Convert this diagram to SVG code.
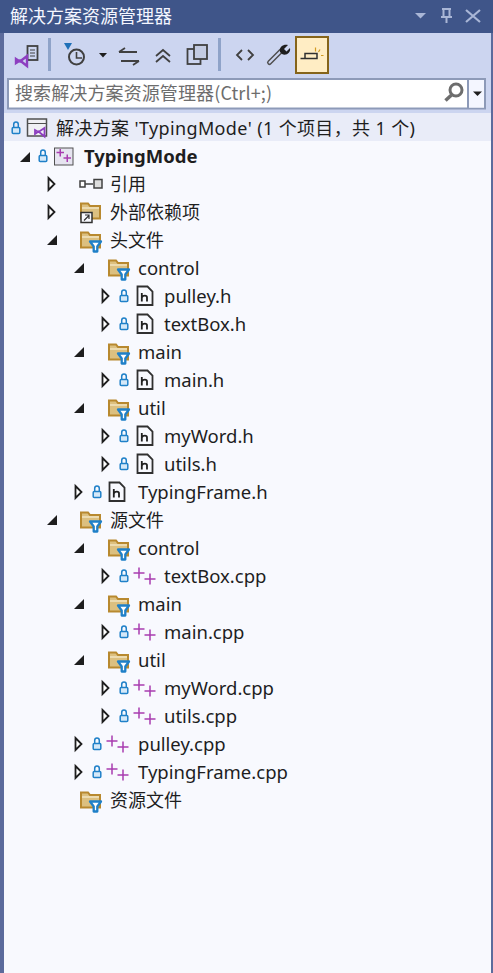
<svg xmlns="http://www.w3.org/2000/svg" width="493" height="973" viewBox="0 0 493 973">
<style>
text{font-family:"Noto Sans","Noto Sans CJK SC",sans-serif;font-size:18.5px;fill:#1e1e1e}
.cjk{font-family:"Noto Sans CJK SC","Noto Sans",sans-serif;font-size:18px}
.title{fill:#f4f6ff}
.open{fill:#fff;stroke:#1e1e1e;stroke-width:1.8}
.fill{fill:#1e1e1e}
.ln{fill:none;stroke:#404040;stroke-width:1.8}
</style>
<defs>
<g id="lock"><path d="M-2.300-1v-2.500a2.300 2.500 0 0 1 4.600 0V-1" fill="none" stroke="#1f80c8" stroke-width="1.500"/><rect x="-3.800" y="-0.500" width="7.600" height="6" rx="1" fill="#d4e8f8" stroke="#1f80c8" stroke-width="1.500"/></g>
<path id="ao" class="open" d="M-2.500-6L3.500 0L-2.500 6Z"/>
<path id="af" class="fill" d="M5-5V5H-5Z"/>
<g id="folder"><path d="M1-7.500H8L10-5H20V7.500H1Z" fill="#dcc080" stroke="#b8892f" stroke-width="2"/><path d="M2-3H19" stroke="#f2e4c0" stroke-width="1.500"/></g>
<g id="filter"><path d="M10 1.500H21L17.300 6.500V11.500L13.700 11.500V6.500Z" fill="#fff" stroke="#1f80c8" stroke-width="2.300" stroke-linejoin="round"/></g>
<g id="ff"><use href="#folder"/><use href="#filter"/></g>
<g id="hf"><path d="M1.500-9.500H11.500L16.500-4.500V9H1.500Z" fill="#f8f9fe" stroke="#303030" stroke-width="1.800"/><path d="M5.800-3V5.500M5.800 1.500C7-1 11-1 11 1.500V5.500" fill="none" stroke="#202020" stroke-width="1.800"/></g>
<g id="cpp"><path d="M-1.500-3H9.500M4-8.500V2.500M9.500 3H20.500M15-2.500V8.500" fill="none" stroke="#a83cb0" stroke-width="1.500"/></g>
</defs>
<rect width="493" height="973" fill="#f8f9fe"/>
<rect width="4" height="973" fill="#5c6b9c"/>
<rect x="491" width="2" height="973" fill="#5c6b9c"/>
<g id="titlebar">
<rect width="493" height="33" fill="#3f5589"/>
<text class="cjk title" x="10" y="23">解决方案资源管理器</text>
<path d="M415 13H426L420.500 18.500Z" fill="#a9b6d6"/>
<path d="M442 9H451M443.500 9V17H449.500V9M441 17H452M446.500 17V23" fill="none" stroke="#a9b6d6" stroke-width="2"/>
<path d="M466 10L480 22M480 10L466 22" stroke="#a9b6d6" stroke-width="2.200"/>
</g>
<g id="toolbar">
<rect x="4" y="33" width="487" height="80" fill="#ccd5f0"/>
<rect x="48" y="38" width="3" height="33" fill="#8fa3c9"/>
<rect x="218" y="38" width="3" height="33" fill="#8fa3c9"/>
<rect x="27.500" y="46" width="10" height="14" fill="#ccd5f0" stroke="#404040" stroke-width="1.800"/><path d="M30 50H35M30 53H35M30 56H35" stroke="#404040"/>
<path d="M16 59L20 61.500L27 56V66L20 60.500L16 63Z" fill="#ccd5f0" stroke="#8d3fc0" stroke-width="2.400"/>
<path d="M64 43H72L68 50Z" fill="#1f70b8"/><circle cx="76.500" cy="57" r="7.500" fill="none" stroke="#404040" stroke-width="2"/><path d="M76.500 52V58H82" fill="none" stroke="#404040" stroke-width="1.600"/>
<path d="M99 53H107L103 57.500Z" fill="#1e1e1e"/>
<path d="M119 52H137M119 52L125 48M121 61H139M139 61L133 65" class="ln"/>
<path d="M156 56L163 50L170 56M156 62L163 56L170 62" class="ln"/>
<rect x="187.500" y="49" width="13" height="15" fill="none" stroke="#404040" stroke-width="1.800"/><rect x="194" y="45" width="13" height="14" fill="#c3cbe2" stroke="#404040" stroke-width="1.800"/>
<path d="M242 50L237 55L242 60M248 50L253 55L248 60" class="ln"/>
<path d="M269.500 62.500L281 51" stroke="#505050" stroke-width="5" stroke-linecap="round"/><path d="M269.500 62.500L281 51" stroke="#ccd5f0" stroke-width="2" stroke-linecap="round"/><path d="M280 52C279 46 284 44 288 45L284 49L286.500 51.500L290 48C291 53 286 56 282 54Z" fill="#1e1e1e"/>
<rect x="296" y="37" width="32" height="36" fill="#ffedc4" stroke="#85641a" stroke-width="2"/>
<path d="M300.500 58.500H317V53.500H305V58.500" fill="none" stroke="#303030" stroke-width="1.500"/><path d="M315.500 47.500V51.500M320 49.500L318.500 52M321 55.500H323.500" stroke="#d19a20" stroke-width="1.200"/>
</g>
<g id="search">
<rect x="8" y="79" width="477" height="29.500" fill="#fff" stroke="#8d9ab8" stroke-width="2"/>
<rect x="469" y="80" width="15" height="27.500" fill="#f4f6ff"/><path d="M468 79V108" stroke="#8d9ab8" stroke-width="2"/>
<text class="cjk" x="15" y="100" style="fill:#6d6d6d" textLength="257" lengthAdjust="spacing">搜索解决方案资源管理器(Ctrl+;)</text>
<circle cx="456" cy="90" r="6" fill="none" stroke="#6d6d6d" stroke-width="3"/><path d="M451.500 95L445.500 100.500" stroke="#6d6d6d" stroke-width="3.500"/>
<path d="M473 91.500H482L477.500 96Z" fill="#1e1e1e"/>
</g>
<g id="tree-header"><rect x="4" y="113" width="487" height="28" fill="#e9ecf8"/></g>
<g id="n-solution"><use href="#lock" x="16" y="128"/><rect x="27.500" y="119" width="19" height="17" fill="#f0f0f5" stroke="#505050" stroke-width="1.500"/><path d="M28 123.500H46" stroke="#505050"/><path d="M35 130L38.500 132L44.500 128V136.500L38.500 131.500L35 134Z" fill="#f0f0f5" stroke="#8d3fc0" stroke-width="1.800"/><text x="56" y="134.500" style="font-size:18px" textLength="359" lengthAdjust="spacing">解决方案 'TypingMode' (1 个项目，共 1 个)</text></g>
<g id="n-project"><use href="#af" x="25" y="157"/><use href="#lock" x="43" y="156"/><rect x="54.500" y="148" width="18.500" height="17" fill="#e6e4f0" stroke="#505050"/><path d="M56.500 152.500H64M60.250 149V156.500M63.500 158H71M67.250 154.500V162" stroke="#a83cb0" stroke-width="1.500"/><text x="84" y="162.500" style="font-weight:700">TypingMode</text></g>
<g id="n-ref"><use href="#ao" x="51" y="184"/><path d="M84 184H93" stroke="#404040" stroke-width="1.500"/><rect x="80" y="181" width="5" height="6" fill="#fff" stroke="#404040" stroke-width="1.500"/><rect x="94" y="179.500" width="8" height="8.500" fill="#ddd" stroke="#404040" stroke-width="1.500"/><text class="cjk" x="110" y="191">引用</text></g>
<g id="n-ext"><use href="#ao" x="51" y="212"/><use href="#folder" x="80" y="211"/><rect x="81" y="212.500" width="11" height="10" fill="#f8f9fe" stroke="#303030" stroke-width="1.500"/><path d="M84 220.500L89 215.500M85 215H89V219" fill="none" stroke="#303030" stroke-width="1.200"/><text class="cjk" x="110" y="219">外部依赖项</text></g>
<g id="n-headers"><use href="#af" x="52" y="240"/><use href="#ff" x="80" y="240"/><text class="cjk" x="110" y="247">头文件</text></g>
<g id="n-h-control"><use href="#af" x="79" y="268"/><use href="#ff" x="108" y="268"/><text x="138" y="274.500">control</text></g>
<g id="n-pulley-h"><use href="#ao" x="105" y="296"/><use href="#lock" x="124" y="296"/><use href="#hf" x="136" y="296"/><text x="164" y="302.500">pulley.h</text></g>
<g id="n-textbox-h"><use href="#ao" x="105" y="324"/><use href="#lock" x="124" y="324"/><use href="#hf" x="136" y="324"/><text x="164" y="330.500">textBox.h</text></g>
<g id="n-h-main"><use href="#af" x="79" y="352"/><use href="#ff" x="108" y="352"/><text x="138" y="358.500">main</text></g>
<g id="n-main-h"><use href="#ao" x="105" y="380"/><use href="#lock" x="124" y="380"/><use href="#hf" x="136" y="380"/><text x="164" y="386.500">main.h</text></g>
<g id="n-h-util"><use href="#af" x="79" y="408"/><use href="#ff" x="108" y="408"/><text x="138" y="414.500">util</text></g>
<g id="n-myword-h"><use href="#ao" x="105" y="436"/><use href="#lock" x="124" y="436"/><use href="#hf" x="136" y="436"/><text x="164" y="442.500">myWord.h</text></g>
<g id="n-utils-h"><use href="#ao" x="105" y="464"/><use href="#lock" x="124" y="464"/><use href="#hf" x="136" y="464"/><text x="164" y="470.500">utils.h</text></g>
<g id="n-typingframe-h"><use href="#ao" x="78" y="492"/><use href="#lock" x="97" y="492"/><use href="#hf" x="108" y="492"/><text x="138" y="498.500">TypingFrame.h</text></g>
<g id="n-sources"><use href="#af" x="52" y="520"/><use href="#ff" x="80" y="520"/><text class="cjk" x="110" y="527">源文件</text></g>
<g id="n-s-control"><use href="#af" x="79" y="548"/><use href="#ff" x="108" y="548"/><text x="138" y="554.500">control</text></g>
<g id="n-textbox-cpp"><use href="#ao" x="105" y="576"/><use href="#lock" x="124" y="576"/><use href="#cpp" x="135" y="576"/><text x="164" y="582.500">textBox.cpp</text></g>
<g id="n-s-main"><use href="#af" x="79" y="604"/><use href="#ff" x="108" y="604"/><text x="138" y="610.500">main</text></g>
<g id="n-main-cpp"><use href="#ao" x="105" y="632"/><use href="#lock" x="124" y="632"/><use href="#cpp" x="135" y="632"/><text x="164" y="638.500">main.cpp</text></g>
<g id="n-s-util"><use href="#af" x="79" y="660"/><use href="#ff" x="108" y="660"/><text x="138" y="666.500">util</text></g>
<g id="n-myword-cpp"><use href="#ao" x="105" y="688"/><use href="#lock" x="124" y="688"/><use href="#cpp" x="135" y="688"/><text x="164" y="694.500">myWord.cpp</text></g>
<g id="n-utils-cpp"><use href="#ao" x="105" y="716"/><use href="#lock" x="124" y="716"/><use href="#cpp" x="135" y="716"/><text x="164" y="722.500">utils.cpp</text></g>
<g id="n-pulley-cpp"><use href="#ao" x="78" y="744"/><use href="#lock" x="97" y="744"/><use href="#cpp" x="108" y="744"/><text x="138" y="750.500">pulley.cpp</text></g>
<g id="n-typingframe-cpp"><use href="#ao" x="78" y="772"/><use href="#lock" x="97" y="772"/><use href="#cpp" x="108" y="772"/><text x="138" y="778.500">TypingFrame.cpp</text></g>
<g id="n-resources"><use href="#ff" x="80" y="800"/><text class="cjk" x="110" y="807">资源文件</text></g>
<g id="connectors"></g>
</svg>
